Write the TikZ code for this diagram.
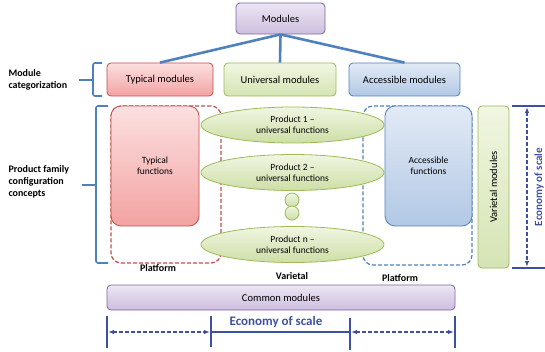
\documentclass[tikz,border=0pt]{standalone}
\usepackage{fontspec}
\setmainfont{Carlito}
\usetikzlibrary{shapes.geometric,arrows.meta}

\definecolor{purpleline}{RGB}{128,100,162}
\definecolor{redline}{RGB}{192,80,77}
\definecolor{greenline}{RGB}{155,187,89}
\definecolor{blueline}{RGB}{79,129,189}
\definecolor{scaleblue}{RGB}{64,80,160}

\tikzset{
  box/.style={draw, rounded corners=4pt, line width=0.8pt, align=center, inner sep=1pt, font=\fontsize{10.5}{12}\selectfont},
  purplebox/.style={box, draw=purpleline, top color={rgb,255:red,236;green,230;blue,243}, bottom color={rgb,255:red,205;green,190;blue,223}},
  redbox/.style={box, draw=redline, top color={rgb,255:red,252;green,224;blue,224}, bottom color={rgb,255:red,243;green,162;blue,162}},
  greenbox/.style={box, draw=greenline, top color={rgb,255:red,240;green,246;blue,226}, bottom color={rgb,255:red,214;green,228;blue,180}},
  bluebox/.style={box, draw=blueline, top color={rgb,255:red,226;green,234;blue,246}, bottom color={rgb,255:red,178;green,200;blue,228}},
  funcbox/.style={rounded corners=10pt, font=\fontsize{9.5}{11}\selectfont},
  product/.style={ellipse, draw=greenline, line width=0.8pt, inner sep=0pt, align=center, font=\fontsize{9.5}{11}\selectfont,
    minimum width=183pt, minimum height=36pt, top color={rgb,255:red,240;green,246;blue,226}, bottom color={rgb,255:red,206;green,222;blue,166}},
  dot/.style={circle, draw=greenline, line width=0.8pt, minimum size=14pt, inner sep=0pt,
    top color={rgb,255:red,240;green,246;blue,226}, bottom color={rgb,255:red,206;green,222;blue,166}},
  platform/.style={draw, dashed, dash pattern=on 4pt off 2pt, line width=1.2pt, rounded corners=10pt, inner sep=0pt},
  captext/.style={font=\fontsize{10}{12}\bfseries\selectfont, align=left},
  bracket/.style={draw=blueline, line width=1.6pt, rounded corners=2pt},
  tree/.style={draw=blueline, line width=2.6pt},
  scaleline/.style={draw=scaleblue, line width=1.5pt},
  scalearrow/.style={draw=scaleblue, line width=1.3pt, dashed, dash pattern=on 4pt off 2pt, {Latex[length=6pt]}-{Latex[length=6pt]}},
  scaletext/.style={text=scaleblue, font=\fontsize{13}{15}\bfseries\selectfont}
}

\begin{document}
\begin{tikzpicture}[x=1pt,y=-1pt]
  \useasboundingbox (0,0) rectangle (545,352);

  % Nodes
  \node[purplebox, minimum width=89pt, minimum height=31pt] (modules) at (280.5,18.5) {Modules};
  \node[redbox, minimum width=106pt, minimum height=33pt] (typical) at (160,79.5) {Typical modules};
  \node[greenbox, minimum width=112pt, minimum height=33pt] (universal) at (280,79.5) {Universal modules};
  \node[bluebox, minimum width=111pt, minimum height=33pt] (accessible) at (404.5,79.5) {Accessible modules};

  \node[captext, anchor=west] (modcat) at (5,80) {Module\\categorization};
  \node[captext, anchor=west] (pfcc) at (5,182) {Product family\\configuration\\concepts};

  \node[platform, draw=redline, minimum width=110pt, minimum height=157pt] (redplat) at (166,184.5) {};
  \node[platform, draw=blueline, minimum width=109pt, minimum height=159pt] (blueplat) at (417.5,185.5) {};
  \node[redbox, funcbox, minimum width=88pt, minimum height=120pt] (typfunc) at (155,166) {Typical\\functions};
  \node[bluebox, funcbox, minimum width=87pt, minimum height=120pt] (accfunc) at (428.5,166) {Accessible\\functions};

  \node[product] (prod1) at (292.5,125) {Product 1 --\\universal functions};
  \node[product] (prod2) at (292.5,172.5) {Product 2 --\\universal functions};
  \node[dot] (dot1) at (292,200) {};
  \node[dot] (dot2) at (292,213) {};
  \node[product] (prodn) at (292.5,244.5) {Product n --\\universal functions};

  \node[captext] (platleft) at (158,268) {Platform};
  \node[captext] (varietal) at (292,276) {Varietal};
  \node[captext] (platright) at (400,278) {Platform};

  \node[greenbox, rotate=90, minimum width=162pt, minimum height=31pt] (varmod) at (493.5,187) {Varietal modules};
  \node[purplebox, minimum width=348pt, minimum height=25pt] (common) at (281,297.5) {Common modules};

  \node[scaletext] (scalebottom) at (276,322) {Economy of scale};
  \node[scaletext, rotate=90, font=\fontsize{11}{13}\bfseries\selectfont, inner sep=0pt] (scaleright) at (539,187) {Economy of scale};

  \coordinate (rtop1) at (512,106);
  \coordinate (rtop2) at (545,106);
  \coordinate (rbot1) at (512,268);
  \coordinate (rbot2) at (545,268);
  \coordinate (rup) at (527,107);
  \coordinate (rdown) at (527,267);

  \coordinate (b1top) at (107,316);
  \coordinate (b1bot) at (107,348);
  \coordinate (b2top) at (211,316);
  \coordinate (b2bot) at (211,347);
  \coordinate (b3top) at (350,318);
  \coordinate (b3bot) at (350,350);
  \coordinate (b4top) at (455,316);
  \coordinate (b4bot) at (455,348);
  \coordinate (a1) at (108,332);
  \coordinate (a2) at (210,332);
  \coordinate (a3) at (351,332);
  \coordinate (a4) at (454,332);

  % Edges
  \draw[tree] (modules.south) -- (typical.north);
  \draw[tree] (modules.south) -- (universal.north);
  \draw[tree] (modules.south) -- (accessible.north);

  % Brackets
  \draw[bracket] (102,63) -- (93,63) -- (93,96) -- (102,96);
  \draw[bracket] (93,80) -- (79,80);
  \draw[bracket] (108,106) -- (96,106) -- (96,263) -- (108,263);
  \draw[bracket] (96,185) -- (82,185);

  % Economy of scale, right
  \draw[scaleline] (rtop1) -- (rtop2);
  \draw[scaleline] (rbot1) -- (rbot2);
  \draw[scalearrow] (rup) -- (rdown);

  % Economy of scale, bottom
  \draw[scaleline] (b1top) -- (b1bot);
  \draw[scaleline] (b2top) -- (b2bot);
  \draw[scaleline] (b3top) -- (b3bot);
  \draw[scaleline] (b4top) -- (b4bot);
  \draw[scalearrow] (a1) -- (a2);
  \draw[scaleline] (a2) -- (a3);
  \draw[scalearrow] (a3) -- (a4);
\end{tikzpicture}
\end{document}
